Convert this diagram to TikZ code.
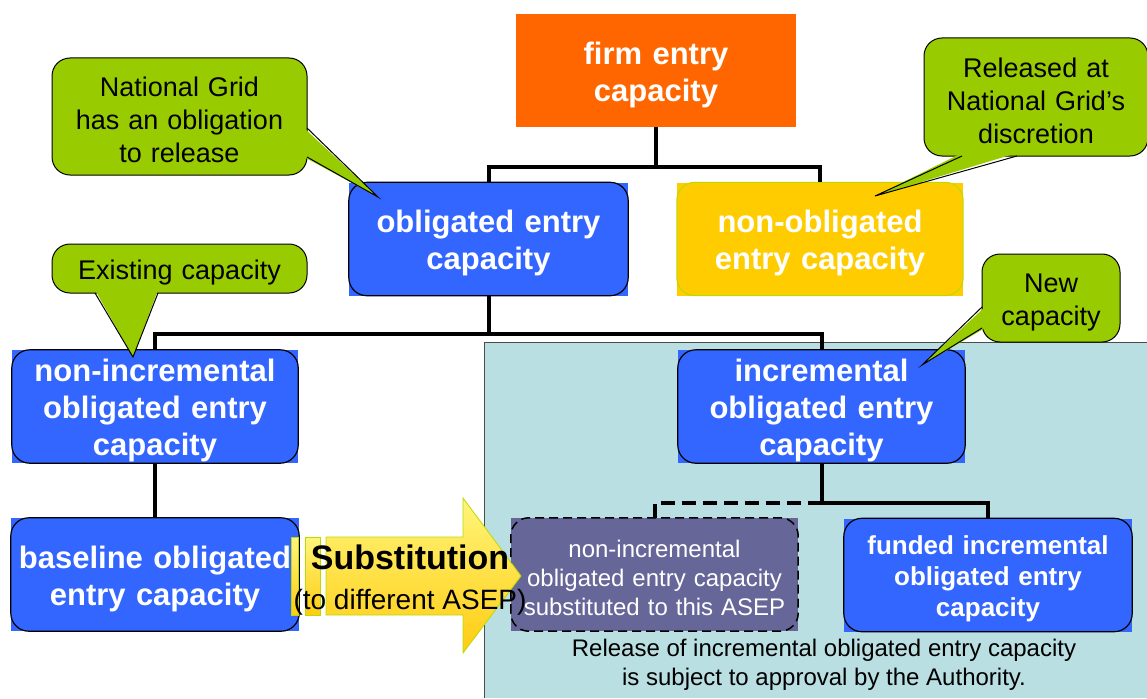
\documentclass[tikz,border=0pt]{standalone}
\usepackage{fontspec}
\setmainfont{Liberation Sans}
\usetikzlibrary{calc}
\definecolor{firmorange}{HTML}{FF6600}
\definecolor{boxblue}{HTML}{3366FF}
\definecolor{nonobligyellow}{HTML}{FFCC00}
\definecolor{callgreen}{HTML}{99CC00}
\definecolor{substpurple}{HTML}{666699}
\definecolor{panelblue}{HTML}{B9DFE2}
\definecolor{arrowtop}{HTML}{FFF57A}
\definecolor{arrowbot}{HTML}{FFCC11}

\begin{document}
\begin{tikzpicture}[x=1pt, y=-1pt, line join=miter]
	\tikzset{
		lowered/.style={execute at begin node={\rule{0pt}{1em}}},
		capbox/.style={font=\fontsize{31}{37}\selectfont\bfseries, text=white, align=center, inner sep=0pt, minimum width=#1, text width=#1, minimum height=113pt, lowered},
		rim/.style={rounded corners=18pt, line width=1.2pt},
		link/.style={line width=4pt},
		callout/.style={fill=callgreen, draw, line width=1pt, rounded corners=18pt, align=center, inner sep=0pt, minimum width=#1, text width=#1, font=\fontsize{27}{33}\selectfont, lowered}
	}
	\useasboundingbox (0,0) rectangle (1147,698);
	% panel of the incremental capacity
	\fill[panelblue] (484,342) rectangle (1147,698);
	\draw[gray!60!black, line width=1pt] (484,698) |- (1147,342);
	
	% capacity boxes
	\node[capbox=280pt, fill=firmorange] (firm) at (656,70.5) {firm entry\\capacity};
	\node[capbox=279pt, fill=boxblue] (oblig) at (488.5,239) {obligated entry\\capacity};
	\node[capbox=286pt, fill=nonobligyellow] (nonoblig) at (820,239) {non-obligated\\entry capacity};
	\node[capbox=286pt, fill=boxblue] (nonincr) at (155,406.5) {non-incremental\\obligated entry\\capacity};
	\node[capbox=287pt, fill=boxblue] (incr) at (821.5,406.5) {incremental\\obligated entry\\capacity};
	\node[capbox=288pt, fill=boxblue] (base) at (155,574.5) {baseline obligated\\entry capacity};
	\node[capbox=287pt, fill=substpurple, font=\fontsize{24}{29}\selectfont] (subst) at (654.5,574.5) {non-incremental\\obligated entry capacity\\substituted to this ASEP};
	\node[capbox=288pt, fill=boxblue, font=\fontsize{26}{31}\selectfont\bfseries] (funded) at (988,575) {funded incremental\\obligated entry\\capacity};
	\foreach \n in {oblig,nonincr,incr,base,funded}
		\draw[rim] (\n.south west) rectangle (\n.north east);
	\draw[rim, draw=callgreen!70!yellow, line width=1pt] (nonoblig.south west) rectangle (nonoblig.north east);
	\draw[rim, line width=1.5pt, dash pattern=on 9pt off 5pt] (subst.south west) rectangle (subst.north east);
	
	% tree
	\draw[link] (firm.south) -- ++(0,40) -| (oblig.north);
	\draw[link] (firm.south) -- ++(0,40) -| (nonoblig.north);
	\draw[link] (oblig.south) -- ++(0,38) -| (nonincr.north);
	\draw[link] (oblig.south) -- ++(0,38) -| (incr.north);
	\draw[link] (nonincr.south) -- (base.north);
	\draw[link] (incr.south) -- ++(0,40) -| (funded.north);
	\draw[link, dash pattern=on 14pt off 7pt] (subst.north) |- ($(incr.south)+(0,40)$);
	
	% substitution arrow
	\draw[draw=callgreen!70!yellow, line width=0.8pt, top color=arrowtop, bottom color=arrowbot] (326,537) -- (463,537) -- (463,498) -- (521,576) -- (463,653) -- (463,615) -- (326,615) -- cycle;
	\foreach \l/\r in {291/298,305/320}
		\draw[draw=callgreen!70!yellow, line width=0.8pt, top color=arrowtop, bottom color=arrowbot] (\l,537) rectangle (\r,615);
	\node[font=\fontsize{34}{40}\selectfont\bfseries] (subtitle) at (410,557) {Substitution};
	\node[font=\fontsize{28}{33}\selectfont] (subnote) at (410,602) {(to different ASEP)};
	\node[align=center, font=\fontsize{24}{29}\selectfont] (approval) at (824,665) {Release of incremental obligated entry capacity\\is subject to approval by the Authority.};
	
	% callouts
	\node[callout=255pt, minimum height=117pt] (oblignote) at (179.5,116.5) {National Grid\\has an obligation\\to release};
	\node[callout=255pt, minimum height=49pt] (existnote) at (179.5,268.5) {Existing capacity};
	\node[callout=224pt, minimum height=118pt] (discnote) at (1036,97) {Released at\\National Grid’s\\discretion};
	\node[callout=138pt, minimum height=88pt] (newnote) at (1051,298) {New\\capacity};
	\foreach \ax/\ay/\tx/\ty/\bx/\by/\dx/\dy in {307/128/378/197/307/157/-3/0, 95/293/133/357/158/293/0/-3, 962/156/875/196/1017/156/0/-3, 982/307/922/365/982/328/3/0}{
		\fill[callgreen] (\ax+\dx,\ay+\dy) -- (\tx,\ty) -- (\bx+\dx,\by+\dy) -- cycle;
		\draw[line width=1pt] (\ax,\ay) -- (\tx,\ty) -- (\bx,\by);
	}
\end{tikzpicture}
\end{document}
